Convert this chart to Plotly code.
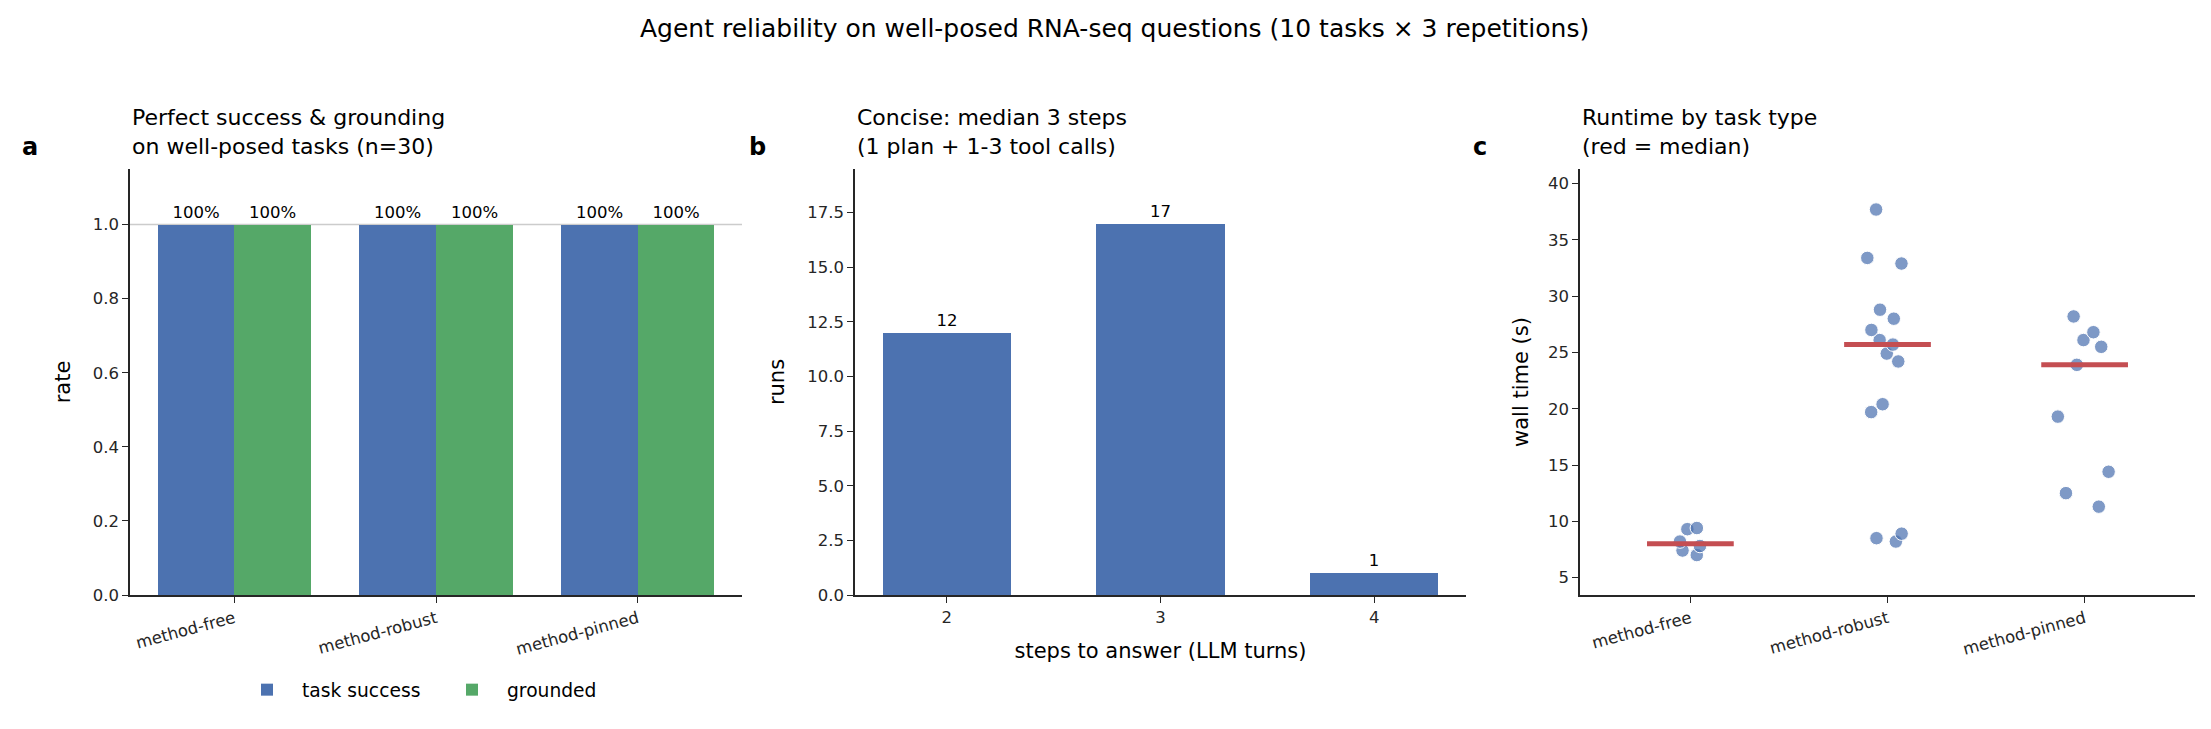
import statistics
import plotly.graph_objects as go

# panel a: success / grounding per task type
task_types = ["method-free", "method-robust", "method-pinned"]
task_success = [1.0, 1.0, 1.0]
grounded = [1.0, 1.0, 1.0]

# panel b: steps to answer
steps = [2, 3, 4]
step_runs = [12, 17, 1]

# panel c: wall time per run (s)
time_free = [9.3, 9.4, 8.2, 7.8, 7.4, 7.0]
time_robust = [37.7, 33.4, 32.9, 28.8, 28.0, 27.0, 26.1, 25.7, 24.9, 24.2,
               20.4, 19.7, 8.9, 8.5, 8.2]
time_pinned = [28.2, 26.8, 26.1, 25.5, 23.9, 19.3, 14.4, 12.5, 11.3]

BLUE = "#4C72B0"
GREEN = "#55A868"
RED = "#C44E52"
FONT = "DejaVu Sans"
TICK = 16.5
LABEL = 21

W, H = 2211, 729
OFF = 8  # page body margin


def px(p):
    return (p - OFF) / W


def py(p):
    return (H - (p - OFF)) / H


dom_y = [py(595), py(169)]
dom_a = [px(130), px(742)]
dom_b = [px(855), px(1466)]
dom_c = [px(1580), px(2195)]

fig = go.Figure()

# --- a
fig.add_trace(go.Bar(x=list(range(3)), y=task_success, width=0.38, offset=-0.38,
                     marker=dict(color=BLUE, line=dict(width=0)), name="task success",
                     text=[f"{v:.0%}" for v in task_success], textposition="outside",
                     textfont=dict(size=TICK, color="black"), cliponaxis=False,
                     xaxis="x", yaxis="y"))
fig.add_trace(go.Bar(x=list(range(3)), y=grounded, width=0.38, offset=0,
                     marker=dict(color=GREEN, line=dict(width=0)), name="grounded",
                     text=[f"{v:.0%}" for v in grounded], textposition="outside",
                     textfont=dict(size=TICK, color="black"), cliponaxis=False,
                     xaxis="x", yaxis="y"))

# --- b
fig.add_trace(go.Bar(x=steps, y=step_runs, width=0.6,
                     marker=dict(color=BLUE, line=dict(width=0)),
                     text=[str(v) for v in step_runs], textposition="outside",
                     textfont=dict(size=TICK, color="black"), cliponaxis=False,
                     showlegend=False, xaxis="x2", yaxis="y2"))

# --- c
groups = [time_free, time_robust, time_pinned]
jitters = [0.25, 0.5, 0.7]
for i, vals in enumerate(groups):
    fig.add_trace(go.Box(y=vals, x0=i, width=0.5, boxpoints="all", jitter=jitters[i],
                         pointpos=0, fillcolor="rgba(0,0,0,0)",
                         line=dict(width=0, color="rgba(0,0,0,0)"),
                         marker=dict(size=13.5, color="rgba(76,114,176,0.72)",
                                     line=dict(color="white", width=1)),
                         showlegend=False, xaxis="x3", yaxis="y3"))
for i, vals in enumerate(groups):
    m = statistics.median(vals)
    fig.add_trace(go.Scatter(x=[i - 0.22, i + 0.22], y=[m, m], mode="lines",
                             line=dict(color=RED, width=5), showlegend=False,
                             xaxis="x3", yaxis="y3"))

axis_style = dict(showline=True, linecolor="#262626", linewidth=1.6, ticks="outside",
                  ticklen=6, tickwidth=1.3, tickcolor="#262626", showgrid=False,
                  zeroline=False, automargin=False,
                  tickfont=dict(size=TICK, color="#262626", family=FONT))

fig.update_layout(
    width=W, height=H, margin=dict(l=0, r=0, t=0, b=0),
    plot_bgcolor="white", paper_bgcolor="white",
    font=dict(family=FONT, color="black"),
    bargap=0, barmode="overlay",
    xaxis=dict(domain=dom_a, range=[-0.517, 2.517], tickvals=list(range(3)),
               ticktext=task_types, tickangle=-15, anchor="y", **axis_style),
    yaxis=dict(domain=dom_y, range=[0, 1.15], tickvals=[0, 0.2, 0.4, 0.6, 0.8, 1.0],
               tickformat=".1f", anchor="x",
               title=dict(text="rate", font=dict(size=LABEL), standoff=16), **axis_style),
    xaxis2=dict(domain=dom_b, range=[1.57, 4.43], tickvals=steps, anchor="y2",
                title=dict(text="steps to answer (LLM turns)", font=dict(size=LABEL),
                           standoff=18), **axis_style),
    yaxis2=dict(domain=dom_y, range=[0, 19.5], tickvals=[0, 2.5, 5, 7.5, 10, 12.5, 15, 17.5],
                tickformat=".1f", anchor="x2",
                title=dict(text="runs", font=dict(size=LABEL), standoff=17), **axis_style),
    xaxis3=dict(domain=dom_c, range=[-0.56, 2.56], tickvals=list(range(3)),
                ticktext=task_types, tickangle=-15, anchor="y3", **axis_style),
    yaxis3=dict(domain=dom_y, range=[3.45, 41.3], tickvals=[5, 10, 15, 20, 25, 30, 35, 40],
                anchor="x3",
                title=dict(text="wall time (s)", font=dict(size=LABEL), standoff=14),
                **axis_style),
    legend=dict(orientation="h", x=px(437), y=py(690), xanchor="center",
                yanchor="middle", font=dict(size=18.7), itemwidth=60,
                entrywidth=130, bgcolor="rgba(0,0,0,0)"),
)

# reference line at 1.0 in panel a
fig.add_shape(type="line", xref="x domain", yref="y", x0=0, x1=1, y0=1, y1=1,
              line=dict(color="#cccccc", width=1.5), layer="below")

titles = [
    (dom_a[0], "Perfect success & grounding<br>on well-posed tasks (n=30)"),
    (dom_b[0], "Concise: median 3 steps<br>(1 plan + 1-3 tool calls)"),
    (dom_c[0], "Runtime by task type<br>(red = median)"),
]
for x0, txt in titles:
    fig.add_annotation(text=txt, x=x0, y=dom_y[1], xref="paper", yref="paper",
                       xanchor="left", yanchor="bottom", yshift=8, align="left",
                       showarrow=False, font=dict(size=22))

for x0, letter in [(px(20), "a"), (px(747), "b"), (px(1471), "c")]:
    fig.add_annotation(text=f"<b>{letter}</b>", x=x0, y=py(147), xref="paper",
                       yref="paper", xanchor="left", yanchor="middle",
                       showarrow=False, font=dict(size=24))

fig.add_annotation(text="Agent reliability on well-posed RNA-seq questions (10 tasks × 3 repetitions)",
                   x=px(1114), y=py(28), xref="paper", yref="paper",
                   xanchor="center", yanchor="middle", showarrow=False,
                   font=dict(size=25))

fig.write_html("out.html")
